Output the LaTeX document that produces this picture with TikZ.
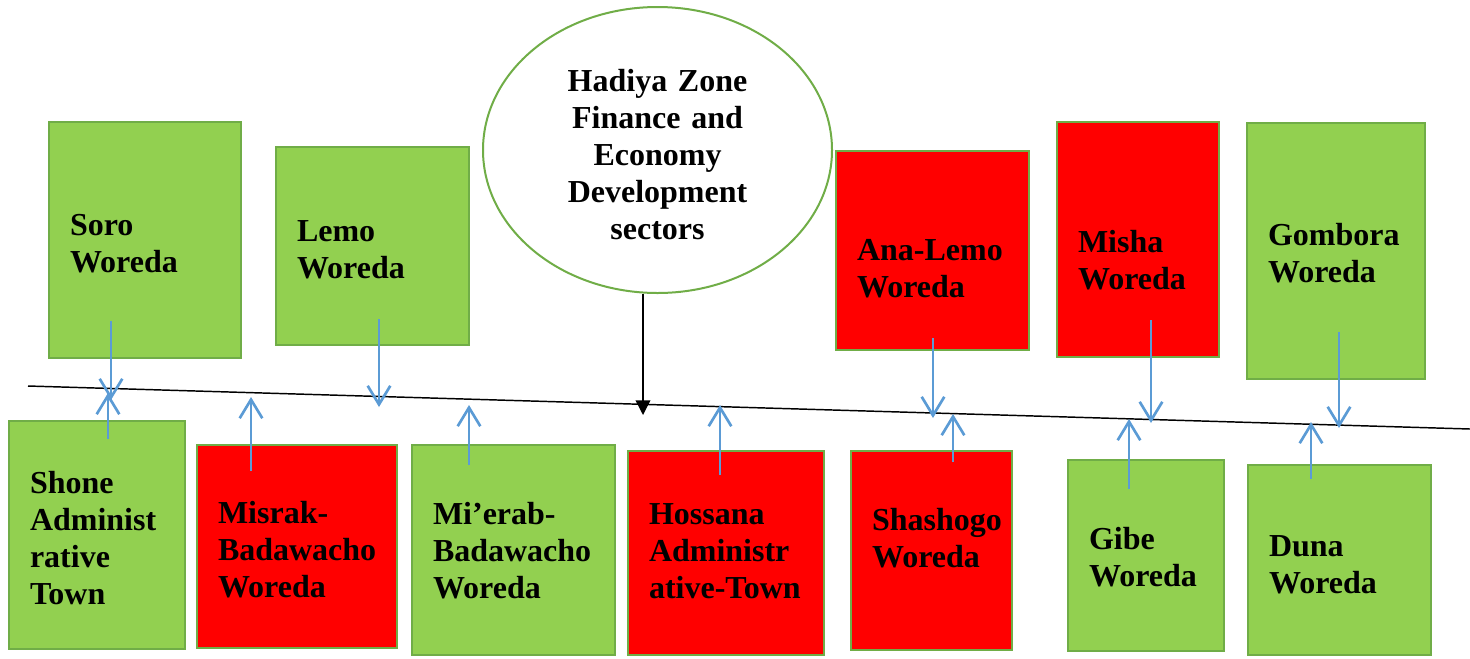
\documentclass[tikz,border=0pt]{standalone}
\usepackage{fontspec}
\setmainfont{Liberation Serif}
\usepackage{xcolor}
\usetikzlibrary{shapes.geometric,arrows.meta,calc}
\definecolor{woredagreen}{HTML}{92D050}
\definecolor{edgegreen}{HTML}{70AD47}
\definecolor{flowblue}{HTML}{5B9BD5}
\newcommand{\greencolor}{woredagreen}
\newcommand{\redcolor}{red}
\newcommand{\padx}{15.75pt}
\hyphenpenalty=10000
\exhyphenpenalty=10000

\begin{document}
\begin{tikzpicture}[x=0.75pt, y=-0.75pt,
    wbox/.style={draw=edgegreen, line width=1.5pt, rectangle, align=left,
        inner xsep=\padx, inner ysep=0pt, font=\fontsize{24}{27.75}\selectfont\bfseries},
    tpos/.style 2 args={text height=#1, text depth=#2},
    flow/.style={draw=flowblue, line width=2pt, -{Straight Barb[length=14pt, width=17pt, line width=2pt]}},
    main/.style={draw=black, line width=1.1pt, -{Triangle[length=11pt, width=11pt]}}]
        \useasboundingbox (0, 0) rectangle (1470, 658);

        % line
        \coordinate (lineL) at (28, 386);
        \coordinate (lineR) at (1470, 429);
        \draw[line width=1.1pt] (lineL) -- (lineR);

        % centre
        \node [draw=edgegreen, line width=1.5pt, fill=white, ellipse, inner sep=0pt,
            minimum width=261.75pt, minimum height=214.5pt, text width=140pt, align=center,
            tpos={6pt}{94pt}, font=\fontsize{24}{27.75}\selectfont\bfseries] (zone) at (657.5, 150)
            {Hadiya Zone\\Finance and\\Economy\\Development\\sectors};

        % upper boxes
        \node [wbox, tpos={36.55pt}{43.45pt}, fill=\greencolor, text width=112.5pt, minimum height=177pt] (soro) at (145, 240) {Soro\\Woreda};
        \node [wbox, tpos={36.55pt}{43.45pt}, fill=\greencolor, text width=113.25pt, minimum height=148.5pt] (lemo) at (372.5, 246) {Lemo\\Woreda};
        \node [wbox, tpos={47.8pt}{32.2pt}, fill=\redcolor, text width=113.25pt, minimum height=149.25pt] (analemo) at (932.5, 250.5) {Ana-Lemo\\Woreda};
        \node [wbox, tpos={50.05pt}{29.95pt}, fill=\redcolor, text width=90pt, minimum height=176.25pt] (misha) at (1138, 239.5) {Misha\\Woreda};
        \node [wbox, tpos={35.8pt}{44.2pt}, fill=\greencolor, text width=102pt, minimum height=192pt] (gombora) at (1336, 251) {Gombora\\Woreda};

        % lower boxes
        \node [wbox, tpos={8.8pt}{71.2pt}, fill=\greencolor, text width=100.5pt, minimum height=171pt] (shone) at (97, 535) {Shone\\Administ\\rative\\Town};
        \node [wbox, tpos={22.7pt}{57.3pt}, fill=\redcolor, text width=118.5pt, minimum height=152.25pt] (misrak) at (297, 546.5) {Misrak-\\Badawacho\\Woreda};
        \node [wbox, tpos={21.2pt}{58.8pt}, fill=\greencolor, text width=120.75pt, minimum height=157.5pt] (mierab) at (513.5, 550) {Mi’erab-\\Badawacho\\Woreda};
        \node [wbox, tpos={18.9pt}{61.1pt}, fill=\redcolor, text width=115.5pt, minimum height=153pt] (hossana) at (726, 553) {Hossana\\Administr\\ative-Town};
        \node [wbox, tpos={25.3pt}{54.7pt}, fill=\redcolor, text width=89.25pt, minimum height=149.25pt] (shashogo) at (931.5, 550.5) {Shashogo\\Woreda};
        \node [wbox, tpos={35.8pt}{44.2pt}, fill=\greencolor, text width=85.5pt, minimum height=143.25pt] (gibe) at (1146, 555.5) {Gibe\\Woreda};
        \node [wbox, tpos={37.3pt}{42.7pt}, fill=\greencolor, text width=105.75pt, minimum height=142.5pt] (duna) at (1339.5, 560) {Duna\\Woreda};

        % arrow tips on the line
        \coordinate (tzone) at (643, 415);
        \coordinate (tsoro) at (111, 400);
        \coordinate (tlemo) at (379, 407);
        \coordinate (tanalemo) at (933, 418);
        \coordinate (tmisha) at (1151, 423);
        \coordinate (tgombora) at (1339, 428);
        \coordinate (tshone) at (108, 393);
        \coordinate (tmisrak) at (251, 397);
        \coordinate (tmierab) at (469, 405);
        \coordinate (thossana) at (720, 405);
        \coordinate (tshashogo) at (953, 414);
        \coordinate (tgibe) at (1129, 419);
        \coordinate (tduna) at (1311, 422);

        % arrows down
        \draw[main] (zone.south -| tzone) -- (tzone);
        \draw[flow] ($(soro.south -| tsoro)+(0,-38)$) -- (tsoro);
        \draw[flow] ($(lemo.south -| tlemo)+(0,-27)$) -- (tlemo);
        \draw[flow] ($(analemo.south -| tanalemo)+(0,-13)$) -- (tanalemo);
        \draw[flow] ($(misha.south -| tmisha)+(0,-38)$) -- (tmisha);
        \draw[flow] ($(gombora.south -| tgombora)+(0,-48)$) -- (tgombora);

        % arrows up
        \draw[flow] ($(shone.north -| tshone)+(0,19)$) -- (tshone);
        \draw[flow] ($(misrak.north -| tmisrak)+(0,27)$) -- (tmisrak);
        \draw[flow] ($(mierab.north -| tmierab)+(0,21)$) -- (tmierab);
        \draw[flow] ($(hossana.north -| thossana)+(0,25)$) -- (thossana);
        \draw[flow] ($(shashogo.north -| tshashogo)+(0,12)$) -- (tshashogo);
        \draw[flow] ($(gibe.north -| tgibe)+(0,30)$) -- (tgibe);
        \draw[flow] ($(duna.north -| tduna)+(0,15)$) -- (tduna);
    \end{tikzpicture}
\end{document}
